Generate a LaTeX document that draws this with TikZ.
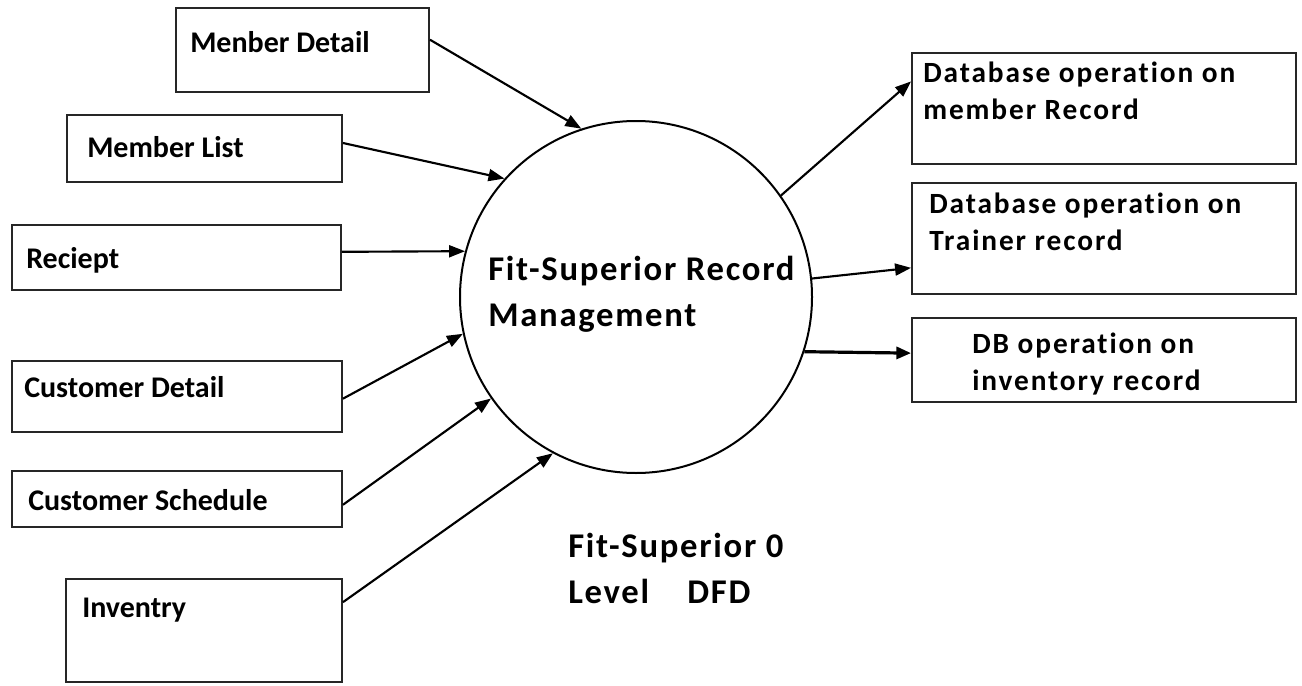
\documentclass[tikz,border=0pt]{standalone}
\usepackage{fontspec}
\setmainfont[Ligatures=NoCommon]{Carlito}
\newfontfamily\wideface[LetterSpace=6.5,Ligatures=NoCommon]{Carlito}
\newfontfamily\midface[LetterSpace=5,Ligatures=NoCommon]{Carlito}
\usetikzlibrary{arrows.meta,fit,calc}
\newcommand{\twolines}[2]{\begin{tabular}[t]{@{}l@{}}#1\\#2\end{tabular}}
\begin{document}
\begin{tikzpicture}[x=0.75pt,y=-0.75pt,
  box/.style={draw=black!85,line width=1.4pt,inner sep=0pt,rectangle},
  proc/.style={draw=black,line width=1.5pt,circle,inner sep=0pt,minimum size=264pt},
  flow/.style={line width=1.6pt,-{Triangle[length=12pt,width=9pt]}},
  heavyflow/.style={line width=2.4pt,-{Triangle[length=11pt,width=9pt]}},
  intxt/.style={anchor=base west,inner sep=0pt,font=\bfseries\fontsize{22.5}{28}\selectfont},
  outtxt/.style={anchor=base west,inner sep=0pt,font=\wideface\bfseries\fontsize{22}{27.75}\selectfont},
  bigtxt/.style={anchor=base west,inner sep=0pt,font=\midface\bfseries\fontsize{26}{35}\selectfont}]
\useasboundingbox (0,0) rectangle (1302,685);

% external sources on the left
\node[box,fit={(176,8) (429,92)}] (md) {};
\node[box,fit={(67,115) (342,182)}] (ml) {};
\node[box,fit={(12,225) (341,290)}] (rc) {};
\node[box,fit={(12,361) (342,432)}] (cd) {};
\node[box,fit={(12,471) (342,527)}] (cs) {};
\node[box,fit={(66,579) (342,682)}] (inv) {};

\node[intxt] (mdt) at (190,53) {Menber Detail};
\node[intxt] (mlt) at (87,157) {Member List};
\node[intxt] (rct) at (26,268) {Reciept};
\node[intxt] (cdt) at (24,397) {Customer Detail};
\node[intxt] (cst) at (28,510) {Customer Schedule};
\node[intxt] (invt) at (82,617) {Inventry};

% the process
\node[proc] (c) at (636,297) {};
\node[bigtxt] (ct) at (488,280) {\twolines{Fit-Superior Record}{Management}};

% data stores on the right
\node[box,fit={(912,53) (1296,164)}] (r1) {};
\node[box,fit={(912,183) (1296,294)}] (r2) {};
\node[box,fit={(912,318) (1296,402)}] (r3) {};

\node[outtxt] (r1t) at (923,83) {\twolines{Database operation on}{member Record}};
\node[outtxt] (r2t) at (929,213) {\twolines{Database operation on}{Trainer record}};
\node[outtxt] (r3t) at (972,353) {\twolines{DB operation on}{inventory record}};

% caption
\node[bigtxt] (cap) at (568,557) {\twolines{Fit-Superior 0}{Level\hspace{1.1em}DFD}};

% incoming flows
\draw[flow] ($(md.north east)!0.38!(md.south east)$) -- (c.108);
\draw[flow] ($(ml.north east)!0.42!(ml.south east)$) -- (c.138);
\draw[flow] ($(rc.north east)!0.415!(rc.south east)$) -- (c.165);
\draw[flow] ($(cd.north east)!0.53!(cd.south east)$) -- (c.192);
\draw[flow] ($(cs.north east)!0.6!(cs.south east)$) -- (c.215);
\draw[flow] ($(inv.north east)!0.23!(inv.south east)$) -- (c.242);

% outgoing flows
\draw[flow] (c.35) -- ($(r1.north west)!0.26!(r1.south west)$);
\draw[flow] (c.6) -- ($(r2.north west)!0.76!(r2.south west)$);
\draw[heavyflow] (c.-18) -- ($(r3.north west)!0.42!(r3.south west)$);
\end{tikzpicture}
\end{document}
